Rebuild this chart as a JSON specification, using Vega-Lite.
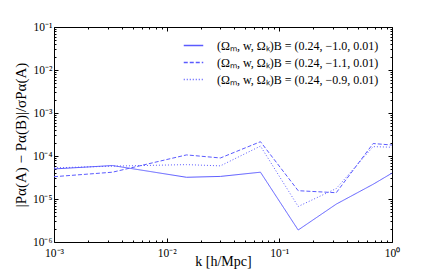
{
  "$schema": "https://vega.github.io/schema/vega-lite/v6.json",
  "width": 338,
  "height": 215,
  "autosize": "none",
  "padding": {"left": 54, "top": 27, "right": 44, "bottom": 28},
  "background": "white",
  "config": {
    "view": {"stroke": "#000000", "strokeWidth": 1},
    "axis": {
      "labelFont": "Liberation Serif",
      "labelFontSize": 11.5,
      "labelColor": "#000000",
      "titleFont": "Liberation Serif",
      "titleFontSize": 14,
      "titleFontWeight": "normal",
      "titleColor": "#000000",
      "tickColor": "#000000",
      "grid": false,
      "domain": false
    },
    "legend": {
      "labelFont": "Liberation Serif",
      "labelFontSize": 12,
      "labelColor": "#000000"
    }
  },
  "data": {
    "values": [
      {"series": "(Ωₘ, w, Ωₖ)B = (0.24, −1.0, 0.01)", "k": 0.001, "v": 5.0e-5},
      {"series": "(Ωₘ, w, Ωₖ)B = (0.24, −1.0, 0.01)", "k": 0.0033, "v": 6.0e-5},
      {"series": "(Ωₘ, w, Ωₖ)B = (0.24, −1.0, 0.01)", "k": 0.015, "v": 3.2e-5},
      {"series": "(Ωₘ, w, Ωₖ)B = (0.24, −1.0, 0.01)", "k": 0.03, "v": 3.35e-5},
      {"series": "(Ωₘ, w, Ωₖ)B = (0.24, −1.0, 0.01)", "k": 0.068, "v": 4.2e-5},
      {"series": "(Ωₘ, w, Ωₖ)B = (0.24, −1.0, 0.01)", "k": 0.147, "v": 1.9e-6},
      {"series": "(Ωₘ, w, Ωₖ)B = (0.24, −1.0, 0.01)", "k": 0.32, "v": 7.6e-6},
      {"series": "(Ωₘ, w, Ωₖ)B = (0.24, −1.0, 0.01)", "k": 0.68, "v": 2.2e-5},
      {"series": "(Ωₘ, w, Ωₖ)B = (0.24, −1.0, 0.01)", "k": 1.0, "v": 4.0e-5},
      {"series": "(Ωₘ, w, Ωₖ)B = (0.24, −1.1, 0.01)", "k": 0.001, "v": 3.3e-5},
      {"series": "(Ωₘ, w, Ωₖ)B = (0.24, −1.1, 0.01)", "k": 0.0033, "v": 4.2e-5},
      {"series": "(Ωₘ, w, Ωₖ)B = (0.24, −1.1, 0.01)", "k": 0.015, "v": 1.06e-4},
      {"series": "(Ωₘ, w, Ωₖ)B = (0.24, −1.1, 0.01)", "k": 0.03, "v": 9.0e-5},
      {"series": "(Ωₘ, w, Ωₖ)B = (0.24, −1.1, 0.01)", "k": 0.068, "v": 2.15e-4},
      {"series": "(Ωₘ, w, Ωₖ)B = (0.24, −1.1, 0.01)", "k": 0.147, "v": 1.56e-5},
      {"series": "(Ωₘ, w, Ωₖ)B = (0.24, −1.1, 0.01)", "k": 0.32, "v": 1.4e-5},
      {"series": "(Ωₘ, w, Ωₖ)B = (0.24, −1.1, 0.01)", "k": 0.68, "v": 1.95e-4},
      {"series": "(Ωₘ, w, Ωₖ)B = (0.24, −1.1, 0.01)", "k": 1.0, "v": 1.8e-4},
      {"series": "(Ωₘ, w, Ωₖ)B = (0.24, −0.9, 0.01)", "k": 0.001, "v": 5.3e-5},
      {"series": "(Ωₘ, w, Ωₖ)B = (0.24, −0.9, 0.01)", "k": 0.0033, "v": 5.8e-5},
      {"series": "(Ωₘ, w, Ωₖ)B = (0.24, −0.9, 0.01)", "k": 0.015, "v": 6.3e-5},
      {"series": "(Ωₘ, w, Ωₖ)B = (0.24, −0.9, 0.01)", "k": 0.03, "v": 5.9e-5},
      {"series": "(Ωₘ, w, Ωₖ)B = (0.24, −0.9, 0.01)", "k": 0.068, "v": 1.7e-4},
      {"series": "(Ωₘ, w, Ωₖ)B = (0.24, −0.9, 0.01)", "k": 0.147, "v": 6.7e-6},
      {"series": "(Ωₘ, w, Ωₖ)B = (0.24, −0.9, 0.01)", "k": 0.32, "v": 1.75e-5},
      {"series": "(Ωₘ, w, Ωₖ)B = (0.24, −0.9, 0.01)", "k": 0.68, "v": 1.65e-4},
      {"series": "(Ωₘ, w, Ωₖ)B = (0.24, −0.9, 0.01)", "k": 1.0, "v": 1.6e-4}
    ]
  },
  "resolve": {"axis": {"x": "independent", "y": "independent"}},
  "layer": [
    {
      "mark": {"type": "line", "strokeWidth": 1},
      "encoding": {
        "x": {
          "field": "k", "type": "quantitative",
          "scale": {"type": "log", "domain": [0.001, 1], "nice": false},
          "axis": {
            "orient": "bottom",
            "title": "k [h/Mpc]",
            "titlePadding": -6,
            "values": [0.001,0.002,0.003,0.004,0.005,0.006,0.007,0.008,0.009,0.01,0.02,0.03,0.04,0.05,0.06,0.07,0.08,0.09,0.1,0.2,0.3,0.4,0.5,0.6,0.7,0.8,0.9,1],
            "labelExpr": "datum.value == 0.001 ? '10⁻³' : datum.value == 0.01 ? '10⁻²' : datum.value == 0.1 ? '10⁻¹' : datum.value == 1 ? '10⁰' : ''",
            "tickSize": {"condition": {"test": "datum.value == 0.001 || datum.value == 0.01 || datum.value == 0.1 || datum.value == 1", "value": -4}, "value": -2},
            "labelPadding": 9,
            "labelFlush": false,
            "labelOverlap": false
          }
        },
        "y": {
          "field": "v", "type": "quantitative",
          "scale": {"type": "log", "domain": [1e-6, 0.1], "nice": false},
          "axis": {
            "orient": "left",
            "title": "|Pα(A) − Pα(B)|/σPα(A)",
            "titleFontSize": 15,
            "titlePadding": 4,
            "values": [1e-6,2e-6,3e-6,4e-6,5e-6,6e-6,7e-6,8e-6,9e-6,1e-5,2e-5,3e-5,4e-5,5e-5,6e-5,7e-5,8e-5,9e-5,1e-4,2e-4,3e-4,4e-4,5e-4,6e-4,7e-4,8e-4,9e-4,0.001,0.002,0.003,0.004,0.005,0.006,0.007,0.008,0.009,0.01,0.02,0.03,0.04,0.05,0.06,0.07,0.08,0.09,0.1],
            "labelExpr": "datum.value == 1e-6 ? '10⁻⁶' : datum.value == 1e-5 ? '10⁻⁵' : datum.value == 1e-4 ? '10⁻⁴' : datum.value == 0.001 ? '10⁻³' : datum.value == 0.01 ? '10⁻²' : datum.value == 0.1 ? '10⁻¹' : ''",
            "tickSize": {"condition": {"test": "datum.value == 1e-6 || datum.value == 1e-5 || datum.value == 1e-4 || datum.value == 0.001 || datum.value == 0.01 || datum.value == 0.1", "value": -4}, "value": -2},
            "labelPadding": 6,
            "labelFlush": false,
            "labelOverlap": false
          }
        },
        "color": {
          "field": "series", "type": "nominal",
          "sort": ["(Ωₘ, w, Ωₖ)B = (0.24, −1.0, 0.01)", "(Ωₘ, w, Ωₖ)B = (0.24, −1.1, 0.01)", "(Ωₘ, w, Ωₖ)B = (0.24, −0.9, 0.01)"],
          "scale": {
            "domain": ["(Ωₘ, w, Ωₖ)B = (0.24, −1.0, 0.01)", "(Ωₘ, w, Ωₖ)B = (0.24, −1.1, 0.01)", "(Ωₘ, w, Ωₖ)B = (0.24, −0.9, 0.01)"],
            "range": ["#5b5bff", "#5b5bff", "#5b5bff"]
          },
          "legend": {
            "title": null,
            "orient": "none",
            "legendX": 129,
            "legendY": 8,
            "symbolType": "stroke",
            "symbolSize": 380,
            "symbolStrokeWidth": 1.4,
            "symbolStrokeColor": "#5b5bff",
            "symbolOpacity": 1,
            "labelOffset": 13,
            "rowPadding": 0,
            "labelLimit": 300,
            "encode": {"symbols": {"update": {"stroke": {"value": "#5b5bff"}, "strokeOpacity": {"value": 1}}}}
          }
        },
        "strokeDash": {
          "field": "series", "type": "nominal",
          "sort": ["(Ωₘ, w, Ωₖ)B = (0.24, −1.0, 0.01)", "(Ωₘ, w, Ωₖ)B = (0.24, −1.1, 0.01)", "(Ωₘ, w, Ωₖ)B = (0.24, −0.9, 0.01)"],
          "scale": {
            "domain": ["(Ωₘ, w, Ωₖ)B = (0.24, −1.0, 0.01)", "(Ωₘ, w, Ωₖ)B = (0.24, −1.1, 0.01)", "(Ωₘ, w, Ωₖ)B = (0.24, −0.9, 0.01)"],
            "range": [[1, 0], [4, 2], [1, 2]]
          },
          "legend": {
            "title": null,
            "orient": "none",
            "legendX": 129,
            "legendY": 8,
            "symbolType": "stroke",
            "symbolSize": 380,
            "symbolStrokeWidth": 1.4,
            "symbolStrokeColor": "#5b5bff",
            "symbolOpacity": 1,
            "labelOffset": 13,
            "rowPadding": 0,
            "labelLimit": 300,
            "encode": {"symbols": {"update": {"stroke": {"value": "#5b5bff"}, "strokeOpacity": {"value": 1}}}}
          }
        }
      }
    },
    {
      "mark": {"type": "line", "strokeOpacity": 0},
      "encoding": {
        "x": {
          "field": "k", "type": "quantitative",
          "scale": {"type": "log", "domain": [0.001, 1], "nice": false},
          "axis": {
            "orient": "top",
            "title": null,
            "labels": false,
            "values": [0.001,0.002,0.003,0.004,0.005,0.006,0.007,0.008,0.009,0.01,0.02,0.03,0.04,0.05,0.06,0.07,0.08,0.09,0.1,0.2,0.3,0.4,0.5,0.6,0.7,0.8,0.9,1],
            "tickSize": {"condition": {"test": "datum.value == 0.001 || datum.value == 0.01 || datum.value == 0.1 || datum.value == 1", "value": -4}, "value": -2}
          }
        },
        "y": {
          "field": "v", "type": "quantitative",
          "scale": {"type": "log", "domain": [1e-6, 0.1], "nice": false},
          "axis": {
            "orient": "right",
            "title": null,
            "labels": false,
            "values": [1e-6,2e-6,3e-6,4e-6,5e-6,6e-6,7e-6,8e-6,9e-6,1e-5,2e-5,3e-5,4e-5,5e-5,6e-5,7e-5,8e-5,9e-5,1e-4,2e-4,3e-4,4e-4,5e-4,6e-4,7e-4,8e-4,9e-4,0.001,0.002,0.003,0.004,0.005,0.006,0.007,0.008,0.009,0.01,0.02,0.03,0.04,0.05,0.06,0.07,0.08,0.09,0.1],
            "tickSize": {"condition": {"test": "datum.value == 1e-6 || datum.value == 1e-5 || datum.value == 1e-4 || datum.value == 0.001 || datum.value == 0.01 || datum.value == 0.1", "value": -4}, "value": -2}
          }
        },
        "detail": {"field": "series", "type": "nominal"}
      }
    }
  ]
}
